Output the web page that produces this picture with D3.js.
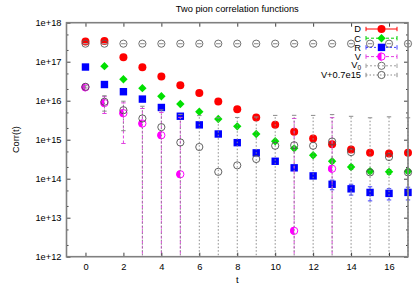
<!DOCTYPE html>
<html>
<head>
<script src="https://d3js.org/d3.v7.min.js"></script>
<style>
body { margin: 0; background: #fff; }
text { font-family: "Liberation Sans", Arial, sans-serif; font-size: 9.3px; fill: #000; }
</style>
</head>
<body>
<div id="chart"></div>
<script>
// data
var tvals = [0, 1, 2, 3, 4, 5, 6, 7, 8, 9, 10, 11, 12, 13, 14, 15, 16, 17];
var D    = [3.3e17, 3.4e17, 1.3e17, 7.2e16, 4.2e16, 2.5e16, 1.57e16, 9.6e15, 6.0e15, 3.7e15, 2.4e15, 1.6e15, 1.07e15, 7.6e14, 5.6e14, 4.6e14, 4.4e14, 4.6e14];
var dErr = [3e15, 3e15, 1.5e15, 1e15, 7e14, 5e14, 4e14, 3e14, 2.5e14, 2e14, 1.5e14, 1.2e14, 1e14, 8e13, 6e13, 5e13, 5e13, 5e13];
var C    = [null, 7.7e16, 3.55e16, 2.1e16, 1.3e16, 8.2e15, 5.2e15, 3.4e15, 2.2e15, 1.4e15, 9.1e14, 6.0e14, 4.0e14, 2.8e14, 2.0e14, 1.55e14, 1.5e14, 1.55e14];
var cErr = [0, 1.5e15, 8e14, 5e14, 3e14, 2e14, 1.5e14, 1.2e14, 1e14, 8e13, 6e13, 5e13, 4e13, 3e13, 2.5e13, 2e13, 2e13, 2e13];
var R    = [7.3e16, 2.6e16, 1.7e16, 1.1e16, 6.7e15, 4.0e15, 2.4e15, 1.4e15, 8.4e14, 4.6e14, 2.8e14, 1.9e14, 1.18e14, 7.2e13, 5.5e13, 4.45e13, 4.2e13, 4.45e13];
var rErr = [1.5e15, 8e14, 5e14, 3e14, 2e14, 1.5e14, 1e14, 8e13, 6e13, 4e13, 3e13, 2.5e13, 1.2e13, 2e13, 1.7e13, 1.75e13, 1.35e13, 1.6e13];
var V    = [2.2e16, 8.7e15, 4.8e15, 2.6e15, 1.3e15, 1.3e14, null, null, null, null, null, 4.6e12, null, 1.8e14, null, null, null, null];
var vErr = [1.5e15, 4e15, 4e15, 3.7e15, 3.7e15, 3.6e15, 3.5e15, 3.5e15, 3.5e15, 3.5e15, 3.5e15, 3.5e15, 3.5e15, 3.5e15, 3.5e15, 3.5e15, 3.5e15, 3.5e15];
var V0   = [2.9e17, 2.9e17, 2.9e17, 2.9e17, 2.9e17, 2.9e17, 2.9e17, 2.9e17, 2.9e17, 2.9e17, 2.9e17, 2.9e17, 2.9e17, 2.9e17, 2.9e17, 2.9e17, 2.9e17, 2.9e17];
var v0Err = [5e14, 5e14, 5e14, 5e14, 5e14, 5e14, 5e14, 5e14, 5e14, 5e14, 5e14, 5e14, 5e14, 5e14, 5e14, 5e14, 5e14, 5e14];
var Vs   = [2.27e16, 9.4e15, 5.7e15, 3.5e15, 2.1e15, 8.5e14, 6.5e14, 1.5e14, 2.2e14, 3.2e14, 7.0e14, 7.2e14, 7.0e14, 9.0e14, 4.8e14, 1.45e14, 3.6e14, 1.45e14];
var vsErr = [1.5e15, 4e15, 4e15, 3.7e15, 3.7e15, 3.6e15, 3.5e15, 3.5e15, 3.5e15, 3.5e15, 3.5e15, 3.5e15, 3.5e15, 3.5e15, 3.5e15, 3.5e15, 3.5e15, 3.5e15];
var xTicks = [0, 2, 4, 6, 8, 10, 12, 14, 16];
var yTicks = [1e12, 1e13, 1e14, 1e15, 1e16, 1e17, 1e18];
var yMinor = [2e12, 5e12, 2e13, 5e13, 2e14, 5e14, 2e15, 5e15, 2e16, 5e16, 2e17, 5e17];

var W = 414, H = 288;
var pl = 66.5, pr = 408, pt = 22.7, pb = 256.7;

var x = d3.scaleLinear().domain([-1, 17]).range([pl, pr]);
var y = d3.scaleLog().domain([1e12, 1e18]).range([pb, pt]);

var svg = d3.select("#chart").append("svg").attr("width", W).attr("height", H);

svg.append("defs").append("clipPath").attr("id", "plotclip")
  .append("rect").attr("x", 0).attr("y", pt).attr("width", W).attr("height", pb - pt);

// series: name, values, errors, colour, line dash, marker
var series = [
  {name: "D", v: D, e: dErr, col: "#ff0000", line: "#ff0000", dash: null, mark: "circle"},
  {name: "C", v: C, e: cErr, col: "#00e000", line: "#00d000", dash: "3,2", mark: "diamond"},
  {name: "R", v: R, e: rErr, col: "#0000ff", line: "#4040ff", dash: "2,2", mark: "square"},
  {name: "V", v: V, e: vErr, col: "#ff00ff", line: "#e040e0", dash: "3,2", mark: "half"},
  {name: "V0", v: V0, e: v0Err, col: "#606060", line: "#a0a0a0", dash: "2,2", mark: "open"},
  {name: "V+0.7e15", v: Vs, e: vsErr, col: "#505050", line: "#8a8a8a", dash: "1.5,2", mark: "open"}
];

function drawMark(g, kind, cx, cy, s) {
  if (kind == "circle") {
    g.append("circle").attr("cx", cx).attr("cy", cy).attr("r", 4).attr("fill", s.col);
  } else if (kind == "diamond") {
    g.append("path").attr("d", "M" + cx + "," + (cy - 4.2) + "L" + (cx + 4.2) + "," + cy + "L" + cx + "," + (cy + 4.2) + "L" + (cx - 4.2) + "," + cy + "Z")
      .attr("fill", s.col);
  } else if (kind == "square") {
    g.append("rect").attr("x", cx - 3.7).attr("y", cy - 3.7).attr("width", 7.4).attr("height", 7.4).attr("fill", s.col);
  } else if (kind == "half") {
    g.append("circle").attr("cx", cx).attr("cy", cy).attr("r", 3.6).attr("fill", "#fff").attr("stroke", s.col).attr("stroke-width", 1);
    g.append("path").attr("d", "M" + cx + "," + (cy - 4.1) + "A4.1,4.1 0 0 0 " + cx + "," + (cy + 4.1) + "Z").attr("fill", s.col);
  } else {
    g.append("circle").attr("cx", cx).attr("cy", cy).attr("r", 3.6).attr("fill", "none").attr("stroke", s.col).attr("stroke-width", 0.9);
  }
}

series.forEach(function(s) {
  var g = svg.append("g");
  var bars = g.append("g").attr("clip-path", "url(#plotclip)");
  tvals.forEach(function(t, i) {
    var val = s.v[i];
    if (val == null || val <= 0) return;
    var cx = x(t);
    var hi = val + s.e[i], lo = val - s.e[i];
    var yhi = y(hi);
    var ylo = lo > 1e12 ? y(lo) : pb + 2;
    bars.append("line").attr("x1", cx).attr("x2", cx).attr("y1", ylo).attr("y2", yhi)
      .attr("stroke", s.line).attr("stroke-width", 1).attr("stroke-dasharray", s.dash);
    bars.append("line").attr("x1", cx - 2.2).attr("x2", cx + 2.2).attr("y1", yhi).attr("y2", yhi)
      .attr("stroke", s.line).attr("stroke-width", 1);
    if (lo > 1e12)
      bars.append("line").attr("x1", cx - 2.2).attr("x2", cx + 2.2).attr("y1", ylo).attr("y2", ylo)
        .attr("stroke", s.line).attr("stroke-width", 1);
  });
  tvals.forEach(function(t, i) {
    var val = s.v[i];
    if (val == null || val <= 0) return;
    drawMark(g, s.mark, x(t), y(val), s);
  });
});

// axes, ticks pointing inward on all four sides
var fmt = function(d) { return "1e+" + Math.round(Math.log10(d)); };
svg.append("g").attr("transform", "translate(0," + pb + ")")
  .call(d3.axisBottom(x).tickValues(xTicks).tickSize(-4).tickPadding(7).tickFormat(d3.format("d")));
svg.append("g").attr("transform", "translate(0," + pt + ")")
  .call(d3.axisTop(x).tickValues(xTicks).tickSize(-4).tickFormat(""));
svg.append("g").attr("transform", "translate(" + pl + ",0)")
  .call(d3.axisLeft(y).tickValues(yTicks).tickSize(-4).tickPadding(5).tickFormat(fmt));
svg.append("g").attr("transform", "translate(" + pl + ",0)")
  .call(d3.axisLeft(y).tickValues(yMinor).tickSize(-2).tickFormat(""));
svg.append("g").attr("transform", "translate(" + pr + ",0)")
  .call(d3.axisRight(y).tickValues(yTicks).tickSize(-4).tickFormat(""));
svg.append("g").attr("transform", "translate(" + pr + ",0)")
  .call(d3.axisRight(y).tickValues(yMinor).tickSize(-2).tickFormat(""));
svg.selectAll(".domain").remove();
svg.selectAll(".tick line").attr("stroke", "#404040");
svg.selectAll(".tick text").attr("font-size", null).attr("font-family", null).attr("fill", "#000");

svg.append("rect").attr("x", pl).attr("y", pt).attr("width", pr - pl).attr("height", pb - pt)
  .attr("fill", "none").attr("stroke", "#808080").attr("stroke-width", 1.6);

// titles
svg.append("text").attr("x", (pl + pr) / 2).attr("y", 12).attr("text-anchor", "middle").text("Two pion correlation functions");
svg.append("text").attr("x", (pl + pr) / 2).attr("y", 283).attr("text-anchor", "middle").text("t");
svg.append("text").attr("transform", "translate(19," + ((pt + pb) / 2) + ") rotate(-90)")
  .attr("text-anchor", "middle").text("Corr(t)");

// legend
var lg = svg.append("g");
series.forEach(function(s, i) {
  var ly = 29 + i * 9.2;
  var txt = lg.append("text").attr("x", 361).attr("y", ly + 3.3).attr("text-anchor", "end");
  if (s.name == "V0") {
    txt.attr("y", ly + 2.6);
    txt.append("tspan").text("V");
    txt.append("tspan").attr("font-size", "6.5px").attr("dy", 1.6).text("0");
  } else {
    txt.text(s.name);
  }
  lg.append("line").attr("x1", 366).attr("x2", 397).attr("y1", ly).attr("y2", ly)
    .attr("stroke", s.line).attr("stroke-width", 1).attr("stroke-dasharray", s.dash);
  [366, 397].forEach(function(ex) {
    lg.append("line").attr("x1", ex).attr("x2", ex).attr("y1", ly - 2.2).attr("y2", ly + 2.2)
      .attr("stroke", s.line).attr("stroke-width", 1);
  });
  drawMark(lg, s.mark, 381.5, ly, s);
});
</script>
</body>
</html>
